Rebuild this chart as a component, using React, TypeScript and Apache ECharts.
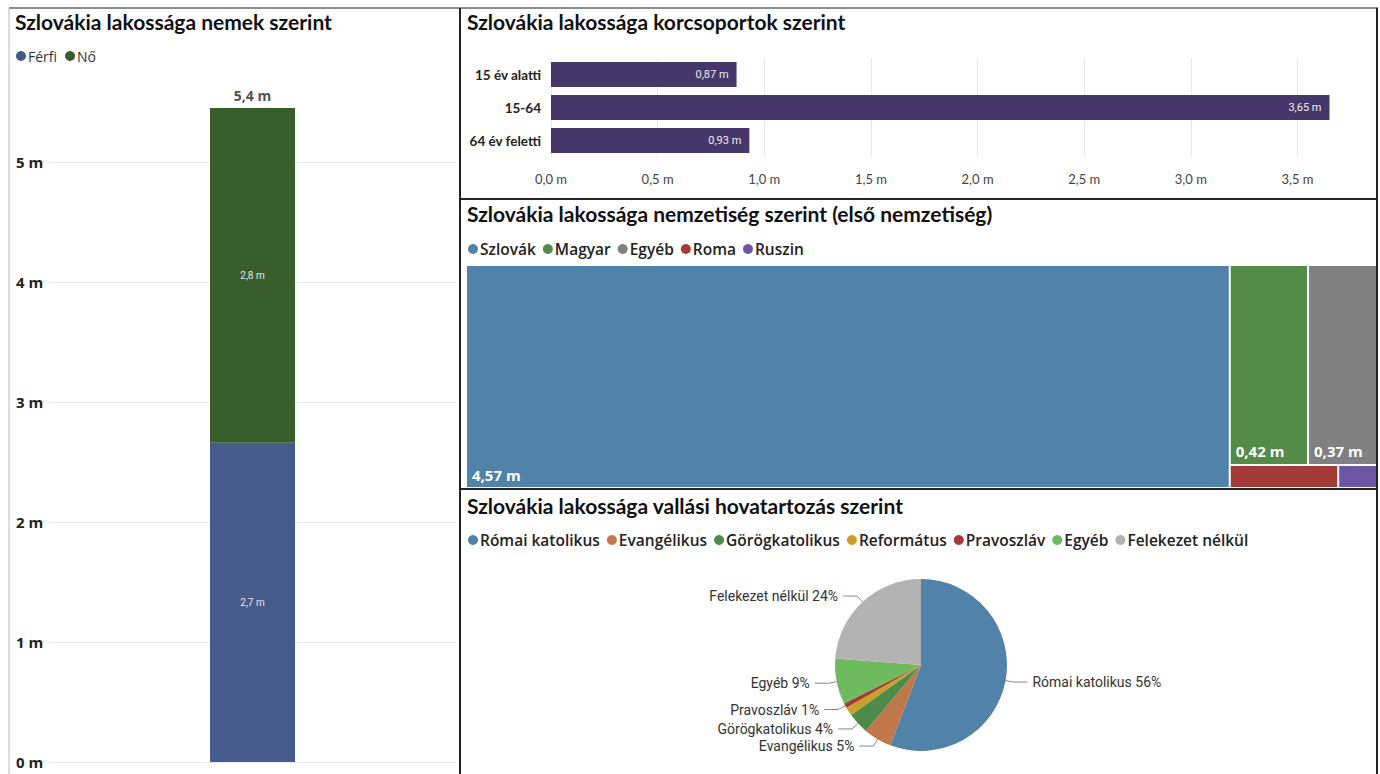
import React, { useEffect, useRef } from 'react';
import * as echarts from 'echarts';

const genderNames = ['Férfi', 'Nő'];
const genderValues = [2.66, 2.79];
const genderColors = ['#465A8C', '#385E2E'];
const genderCategory = ['Szlovákia'];

const ageCategories = ['15 év alatti', '15-64', '64 év feletti'];
const ageValues = [0.87, 3.65, 0.93];
const ageColor = '#46376B';
const ageTicks = [0, 0.5, 1, 1.5, 2, 2.5, 3, 3.5];

const nationNames = ['Szlovák', 'Magyar', 'Egyéb', 'Roma', 'Ruszin'];
const nationValues = [4.57, 0.42, 0.37, 0.067, 0.024];
const nationColors = ['#5183AA', '#558B48', '#808080', '#A23B37', '#6C55A5'];

const religionNames = ['Római katolikus', 'Evangélikus', 'Görögkatolikus', 'Református', 'Pravoszláv', 'Egyéb', 'Felekezet nélkül'];
const religionValues = [55.8, 5.3, 4.0, 1.6, 0.9, 8.6, 23.8];
const religionColors = ['#5183AA', '#C0784B', '#4E8B4A', '#C9A12A', '#A63A36', '#6DBB5E', '#B3B3B3'];
const religionHiddenLabels = ['Református'];

const titles = [
  'Szlovákia lakossága nemek szerint',
  'Szlovákia lakossága korcsoportok szerint',
  'Szlovákia lakossága nemzetiség szerint (első nemzetiség)',
  'Szlovákia lakossága vallási hovatartozás szerint',
];

const FONT = 'Lato';
const LEG_FONT = 'Open Sans';
const DATA_FONT = 'Roboto';

const fmt = (v: number, d: number) => v.toFixed(d).replace('.', ',') + ' m';

function measure(text: string, font: string): number {
  const c = document.createElement('canvas').getContext('2d');
  if (!c) return text.length * 8;
  c.font = font;
  return c.measureText(text).width;
}

export default function App() {
  const ref = useRef<HTMLDivElement>(null);
  useEffect(() => {
    if (!ref.current) return;
    const chart = echarts.init(ref.current, undefined, { renderer: 'svg' });
    const total = genderValues.reduce((a, b) => a + b, 0);
    const totalLabel = fmt(Math.floor(total * 10) / 10, 1);

    const titleStyle = { fontFamily: FONT, fontWeight: 'bold', fontSize: 21, color: '#111' };

    // nationality legend (graphic)
    const legFont = `600 15.5px "${LEG_FONT}"`;
    const legendEls: any[] = [];
    let lx = 468;
    const ly = 249;
    nationNames.forEach((n, i) => {
      legendEls.push({ type: 'circle', shape: { cx: lx + 5, cy: ly, r: 5 }, style: { fill: nationColors[i] }, silent: true });
      legendEls.push({
        type: 'text', x: lx + 12, y: ly,
        style: { text: n, font: legFont, fill: '#222', textVerticalAlign: 'middle' },
        silent: true,
      });
      lx += 12 + measure(n, legFont) + 7;
    });

    const border = (x1: number, y1: number, x2: number, y2: number, color: string, w: number) => ({
      type: 'line', shape: { x1, y1, x2, y2 }, style: { stroke: color, lineWidth: w }, silent: true,
    });

    const option: any = {
      animation: false,
      backgroundColor: '#fff',
      title: [
        { text: titles[0], left: 15, top: 11, padding: 0, textStyle: titleStyle },
        { text: titles[1], left: 467, top: 11, padding: 0, textStyle: titleStyle },
        { text: titles[2], left: 467, top: 203, padding: 0, textStyle: titleStyle },
        { text: titles[3], left: 467, top: 495, padding: 0, textStyle: titleStyle },
      ],
      legend: [
        {
          data: genderNames, left: 16, top: 49, padding: 0, icon: 'circle', itemWidth: 10, itemHeight: 10, itemGap: 8,
          textStyle: { fontFamily: LEG_FONT, fontSize: 14, color: '#333', padding: [0, 0, 0, -3] },
        },
        {
          data: religionNames, left: 468, top: 532, padding: 0, icon: 'circle', itemWidth: 10, itemHeight: 10, itemGap: 7,
          textStyle: { fontFamily: LEG_FONT, fontWeight: 600, fontSize: 15.5, color: '#222', padding: [0, 0, 0, -3] },
        },
      ],
      grid: [
        { left: 50, top: 102, width: 405, height: 660 },
        { left: 551, top: 58, width: 819, height: 99 },
      ],
      xAxis: [
        { gridIndex: 0, type: 'category', data: genderCategory, show: false },
        {
          gridIndex: 1, type: 'value', min: 0, max: 3.84, interval: 0.5,
          axisLabel: { formatter: (v: number) => (ageTicks.includes(v) ? fmt(v, 1) : ''), showMaxLabel: false, fontFamily: FONT, fontSize: 13, color: '#444', margin: 15 },
          axisLine: { show: false }, axisTick: { show: false },
          splitLine: { show: true, showMaxLine: false, lineStyle: { color: '#e8e8e8' } },
        },
      ],
      yAxis: [
        {
          gridIndex: 0, type: 'value', min: 0, max: 5.5, interval: 1,
          axisLabel: {
            formatter: (v: number) => (Number.isInteger(v) ? v + ' m' : ''), showMaxLabel: false,
            align: 'left', margin: 34, fontFamily: LEG_FONT, fontWeight: 'bold', fontSize: 15, color: '#222',
          },
          axisLine: { show: false }, axisTick: { show: false },
          splitLine: { show: true, showMaxLine: false, lineStyle: { color: '#e8e8e8' } },
        },
        {
          gridIndex: 1, type: 'category', data: ageCategories, inverse: true,
          axisLabel: { fontFamily: FONT, fontWeight: 'bold', fontSize: 13.5, color: '#222', margin: 10 },
          axisLine: { show: false }, axisTick: { show: false },
        },
      ],
      series: [
        ...genderNames.map((n, i) => ({
          type: 'bar', name: n, xAxisIndex: 0, yAxisIndex: 0, stack: 'gender', barWidth: 85,
          data: [genderValues[i]], itemStyle: { color: genderColors[i] },
          label: { show: true, position: 'inside', formatter: (p: any) => fmt(p.value, 1), color: '#e6e6e6', fontFamily: DATA_FONT, fontSize: 10 },
        })),
        {
          type: 'scatter', name: 'Összesen', xAxisIndex: 0, yAxisIndex: 0, data: [total], symbolSize: 0, silent: true,
          label: { show: true, position: 'top', distance: 6, formatter: totalLabel, fontFamily: LEG_FONT, fontWeight: 'bold', fontSize: 14, color: '#222' },
        },
        {
          type: 'bar', name: 'Korcsoport', xAxisIndex: 1, yAxisIndex: 1, barWidth: 25, data: ageValues,
          itemStyle: { color: ageColor },
          label: { show: true, position: 'insideRight', distance: 8, formatter: (p: any) => fmt(p.value, 2), color: '#eee', fontFamily: DATA_FONT, fontSize: 11 },
        },
        {
          type: 'treemap', left: 467, top: 266, width: 909, height: 221,
          roam: false, nodeClick: false, breadcrumb: { show: false }, silent: true,
          levels: [{ itemStyle: { gapWidth: 2, borderWidth: 0, borderColor: '#fff' } }],
          itemStyle: { borderWidth: 0, gapWidth: 2 },
          label: {
            show: true, position: 'insideBottomLeft', distance: 0, padding: 5,
            formatter: (p: any) => (p.value >= 0.1 ? fmt(p.value, 2) : ''),
            fontFamily: LEG_FONT, fontWeight: 'bold', fontSize: 15, color: '#fff',
          },
          data: nationNames.map((n, i) => ({ name: n, value: nationValues[i], itemStyle: { color: nationColors[i] } })),
        },
        {
          type: 'pie', name: 'Vallás', center: [921, 665], radius: 86, startAngle: 90, clockwise: true,
          percentPrecision: 0, avoidLabelOverlap: true,
          label: { formatter: '{b} {d}%', fontFamily: DATA_FONT, fontSize: 14, color: '#333' },
          labelLine: { length: 8, length2: 14, lineStyle: { color: '#888', width: 1 } },
          data: religionNames.map((n, i) => ({
            name: n, value: religionValues[i], itemStyle: { color: religionColors[i] },
            ...(religionHiddenLabels.includes(n) ? { label: { show: false }, labelLine: { show: false } } : {}),
          })),
        },
      ],
      graphic: [
        border(9, 8, 1378, 8, '#666', 1.5),
        border(9, 8, 9, 774, '#bbb', 1),
        border(460, 8, 460, 774, '#222', 2),
        border(1377, 8, 1377, 774, '#222', 2),
        border(460, 199, 1378, 199, '#222', 2),
        border(460, 489, 1378, 489, '#222', 2),
        ...legendEls,
      ],
    };
    chart.setOption(option);
    return () => chart.dispose();
  }, []);
  return <div ref={ref} style={{ position: 'absolute', left: 0, top: 0, width: 1380, height: 774, background: '#fff' }} />;
}
